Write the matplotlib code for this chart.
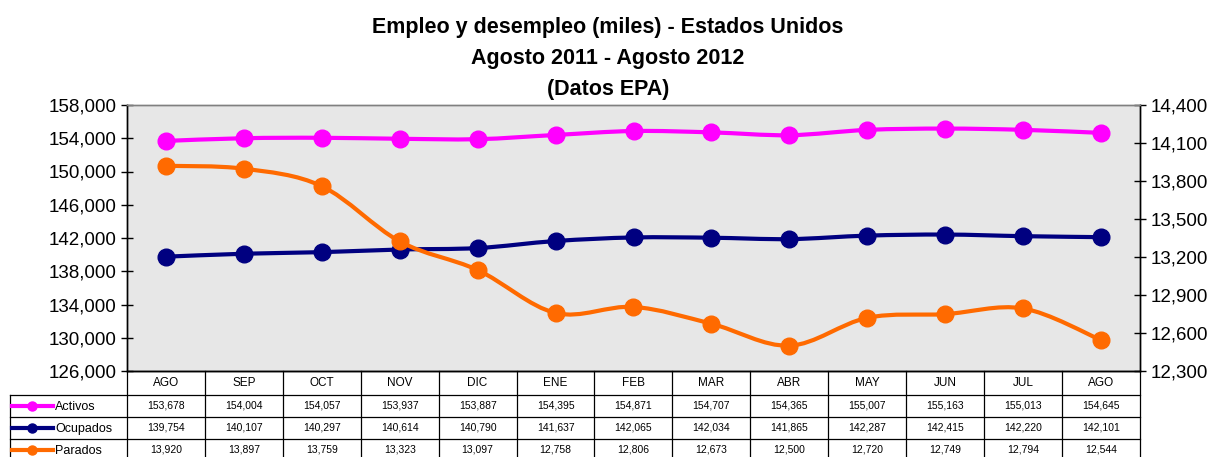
import matplotlib
matplotlib.use("Agg")
import matplotlib.pyplot as plt
from matplotlib.path import Path
from matplotlib.patches import PathPatch
from matplotlib.lines import Line2D
import numpy as np

plt.rcParams['font.family'] = ['Liberation Sans', 'DejaVu Sans']

months = ["AGO", "SEP", "OCT", "NOV", "DIC", "ENE", "FEB", "MAR", "ABR", "MAY", "JUN", "JUL", "AGO"]
activos = [153678, 154004, 154057, 153937, 153887, 154395, 154871, 154707, 154365, 155007, 155163, 155013, 154645]
ocupados = [139754, 140107, 140297, 140614, 140790, 141637, 142065, 142034, 141865, 142287, 142415, 142220, 142101]
parados = [13920, 13897, 13759, 13323, 13097, 12758, 12806, 12673, 12500, 12720, 12749, 12794, 12544]

series_names = ["Activos", "Ocupados", "Parados"]
colors = ["#FF00FF", "#000080", "#FF6A00"]

W, H = 1216, 457
fig = plt.figure(figsize=(W / 100, H / 100), dpi=100)

def fx(px):
    return px / W

def fy(py):
    return 1 - py / H

x0, x1 = 127, 1140
y0, y1 = 105, 371
ax = fig.add_axes([fx(x0), fy(y1), fx(x1) - fx(x0), fy(y0) - fy(y1)])
ax.set_facecolor("#e7e7e7")
ax2 = ax.twinx()

xs = np.arange(len(months))


def smooth_path(x, y):
    x = np.asarray(x, float)
    y = np.asarray(y, float)
    n = len(x)
    verts = [(x[0], y[0])]
    codes = [Path.MOVETO]
    for i in range(n - 1):
        xm1, ym1 = (x[i - 1], y[i - 1]) if i > 0 else (x[i], y[i])
        xp2, yp2 = (x[i + 2], y[i + 2]) if i + 2 < n else (x[i + 1], y[i + 1])
        c1 = (x[i] + (x[i + 1] - xm1) / 6, y[i] + (y[i + 1] - ym1) / 6)
        c2 = (x[i + 1] - (xp2 - x[i]) / 6, y[i + 1] - (yp2 - y[i]) / 6)
        verts += [c1, c2, (x[i + 1], y[i + 1])]
        codes += [Path.CURVE4] * 3
    return Path(verts, codes)


lw = 3.0
ms = 12
for a, vals, c in [(ax, activos, colors[0]), (ax, ocupados, colors[1]), (ax2, parados, colors[2])]:
    a.add_patch(PathPatch(smooth_path(xs, vals), facecolor="none", edgecolor=c, lw=lw, zorder=3))
    a.plot(xs, vals, linestyle="none", marker="o", markersize=ms, color=c, zorder=4)

ax.set_xlim(-0.5, len(months) - 0.5)
ax.set_ylim(126000, 158000)
ax.set_yticks(np.arange(126000, 158001, 4000))
ax.yaxis.set_major_formatter(matplotlib.ticker.FuncFormatter(lambda v, p: f"{int(v):,}"))
ax2.set_ylim(12300, 14400)
ax2.set_yticks(np.arange(12300, 14401, 300))
ax2.yaxis.set_major_formatter(matplotlib.ticker.FuncFormatter(lambda v, p: f"{int(v):,}"))
ax.set_xticks([])
for a in (ax, ax2):
    a.tick_params(axis="y", labelsize=13.5, direction="inout", length=9, width=1, colors="black", pad=3)
    for s in a.spines.values():
        s.set_color("black")
        s.set_linewidth(1)
    a.spines["top"].set_color("#808080")
ax2.set_zorder(ax.get_zorder() + 1)
ax2.patch.set_visible(False)

tfs = 15.5
fig.text(0.5, fy(33), "Empleo y desempleo (miles) - Estados Unidos", ha="center", va="baseline",
         fontsize=tfs, fontweight="bold")
fig.text(0.5, fy(64), "Agosto 2011 - Agosto 2012", ha="center", va="baseline",
         fontsize=tfs, fontweight="bold")
fig.text(0.5, fy(95), "(Datos EPA)", ha="center", va="baseline",
         fontsize=tfs, fontweight="bold")

# table
tx0 = 10
tax = fig.add_axes([fx(tx0), fy(461), fx(x1) - fx(tx0), fy(y1) - fy(461)])
tax.set_xlim(-2.0, len(months) - 0.5)
tax.set_ylim(461, 371)
tax.axis("off")
rows_y = [371, 395, 417, 439, 461]
kw = dict(color="black", lw=0.9, clip_on=False)
nmon = len(months)
for i in range(nmon + 1):
    tax.plot([i - 0.5, i - 0.5], [rows_y[0], rows_y[-1]], **kw)
tax.plot([-2.0, -2.0], [rows_y[1], rows_y[-1]], **kw)
tax.plot([-0.5, nmon - 0.5], [rows_y[0], rows_y[0]], **kw)
for yy in rows_y[1:]:
    tax.plot([-2.0, nmon - 0.5], [yy, yy], **kw)
for i, m in enumerate(months):
    tax.text(i, (rows_y[0] + rows_y[1]) / 2, m, ha="center", va="center", fontsize=8.5)
data_rows = [activos, ocupados, parados]
for r, (vals, name, c) in enumerate(zip(data_rows, series_names, colors)):
    yc = (rows_y[r + 1] + rows_y[r + 2]) / 2
    for i, v in enumerate(vals):
        tax.text(i, yc, f"{v:,}", ha="center", va="center", fontsize=7.5)
    tax.add_line(Line2D([-1.975, -1.45], [yc, yc], color=c, lw=3.0, clip_on=False))
    tax.plot([-1.72], [yc], marker="o", markersize=6.5, color=c, clip_on=False)
    tax.text(-1.42, yc + 1, name, ha="left", va="center", fontsize=9)

fig.savefig("out.png", dpi=100)
